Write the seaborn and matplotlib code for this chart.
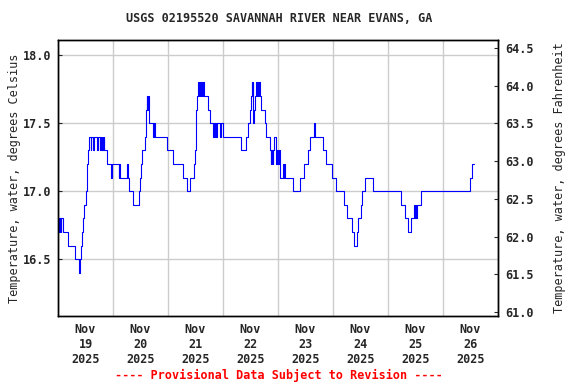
import numpy as np
import pandas as pd
import matplotlib.pyplot as plt
import matplotlib.dates as mdates
import matplotlib.ticker as mticker
import seaborn as sns

# Data: change points of the 15-minute water temperature record (hours since Nov 19 00:00)
hours = [
    0.0, 0.25, 0.5, 0.75, 1.0, 1.25, 1.5, 2.0, 4.5, 7.5, 9.0, 9.75, 10.25, 10.5, 11.0, 11.5,
    12.25, 12.5, 12.75, 13.0, 13.5, 14.25, 14.5, 15.25, 15.5, 17.0, 17.25, 18.25, 18.5, 18.75,
    19.0, 19.25, 19.5, 19.75, 20.0, 20.25, 21.5, 23.0, 23.75, 26.5, 26.75, 27.0, 30.0, 30.5,
    31.0, 32.75, 35.25, 35.75, 36.25, 36.75, 37.75, 38.25, 38.5, 38.75, 39.0, 39.25, 39.5,
    39.75, 41.25, 41.75, 42.5, 47.75, 50.25, 54.75, 56.25, 57.75, 59.5, 59.75, 60.0, 60.25,
    60.5, 61.25, 61.5, 61.75, 62.25, 62.5, 63.0, 63.25, 63.5, 65.25, 66.5, 67.75, 68.0, 68.5,
    68.75, 69.0, 69.25, 70.5, 71.0, 72.0, 79.75, 82.25, 82.75, 83.75, 84.25, 84.5, 84.75,
    85.0, 85.25, 85.5, 86.0, 86.5, 87.0, 87.25, 87.5, 87.75, 88.0, 88.75, 90.25, 90.75, 92.5,
    92.75, 93.0, 93.25, 93.5, 93.75, 94.0, 94.25, 95.0, 95.5, 95.75, 96.0, 96.25, 96.5, 96.75,
    97.0, 98.0, 98.5, 98.75, 99.0, 102.5, 105.75, 107.5, 109.25, 109.75, 111.75, 112.0, 115.5,
    116.75, 119.75, 121.25, 124.75, 126.0, 128.5, 129.0, 130.5, 131.0, 132.25, 132.75, 134.0,
    137.25, 149.5, 151.25, 152.75, 154.25, 155.5, 155.75, 156.0, 156.25, 156.5, 158.5, 179.75,
    180.5, 181.5,
]
temps_c = [
    16.8, 16.7, 16.8, 16.7, 16.8, 16.7, 16.8, 16.7, 16.6, 16.5, 16.4, 16.5, 16.6, 16.7, 16.8, 16.9,
    17.0, 17.1, 17.2, 17.3, 17.4, 17.3, 17.4, 17.3, 17.4, 17.3, 17.4, 17.3, 17.4, 17.3,
    17.4, 17.3, 17.4, 17.3, 17.4, 17.3, 17.2, 17.1, 17.2, 17.1, 17.2, 17.1, 17.2, 17.1,
    17.0, 16.9, 17.0, 17.1, 17.2, 17.3, 17.4, 17.5, 17.6, 17.7, 17.6, 17.7, 17.6,
    17.5, 17.4, 17.5, 17.4, 17.3, 17.2, 17.1, 17.0, 17.1, 17.2, 17.3, 17.5, 17.6,
    17.7, 17.8, 17.7, 17.8, 17.7, 17.8, 17.7, 17.8, 17.7, 17.6, 17.5, 17.4, 17.5, 17.4,
    17.5, 17.4, 17.5, 17.4, 17.5, 17.4, 17.3, 17.4, 17.5, 17.6, 17.7, 17.8, 17.7,
    17.8, 17.5, 17.6, 17.7, 17.8, 17.7, 17.8, 17.7, 17.8, 17.7, 17.6, 17.5, 17.4, 17.3,
    17.2, 17.3, 17.2, 17.3, 17.2, 17.3, 17.4, 17.2, 17.3, 17.2, 17.3, 17.2, 17.3, 17.2,
    17.1, 17.2, 17.1, 17.2, 17.1, 17.0, 17.1, 17.2, 17.3, 17.4, 17.5, 17.4, 17.3,
    17.2, 17.1, 17.0, 16.9, 16.8, 16.7, 16.6, 16.7, 16.8, 16.9, 17.0, 17.1,
    17.0, 16.9, 16.8, 16.7, 16.8, 16.9, 16.8, 16.9, 16.8, 16.9, 17.0, 17.1,
    17.2, 17.2,
]
start = pd.Timestamp("2025-11-19")
end = pd.Timestamp("2025-11-27")
ylim_c = (16.083, 18.1125)

title = "USGS 02195520 SAVANNAH RIVER NEAR EVANS, GA"
note = "---- Provisional Data Subject to Revision ----"

df = pd.DataFrame({"time": start + pd.to_timedelta(hours, unit="h"), "temp": temps_c})

sns.set_style("white")
plt.rcParams["font.family"] = ["DejaVu Sans Mono"]
plt.rcParams["font.weight"] = "bold"
fs = 8.5

fig = plt.figure(figsize=(5.76, 3.84), dpi=100)
ax = fig.add_axes([58 / 576, 1 - 316 / 384, 440 / 576, 276 / 384])

sns.lineplot(data=df, x="time", y="temp", ax=ax, color="#0000ff", linewidth=0.8,
             drawstyle="steps-post", estimator=None)

ax.set_xlim(start, end)
ax.set_ylim(*ylim_c)
ax.yaxis.set_major_locator(mticker.MultipleLocator(0.5))
ax.yaxis.set_major_formatter(mticker.FormatStrFormatter("%.1f"))
ax.xaxis.set_major_locator(mdates.DayLocator())
ax.xaxis.set_major_formatter(mticker.NullFormatter())
ax.xaxis.set_minor_locator(mdates.HourLocator(byhour=12))
ax.xaxis.set_minor_formatter(mdates.DateFormatter("%b\n%d\n%Y"))
ax.tick_params(axis="x", which="major", direction="in", length=3, labelsize=fs)
ax.tick_params(axis="x", which="minor", length=0, pad=5, labelsize=fs)
ax.tick_params(axis="y", direction="in", length=3, labelsize=fs, pad=5)
ax.grid(True, which="major", color="#cccccc", linewidth=1)
ax.set_xlabel("")
ax.set_ylabel("Temperature, water, degrees Celsius", fontsize=fs, labelpad=1)
for s in ax.spines.values():
    s.set_color("black")
    s.set_linewidth(1)

ax2 = ax.twinx()
ax2.set_ylim(ylim_c[0] * 9 / 5 + 32, ylim_c[1] * 9 / 5 + 32)
ax2.yaxis.set_major_locator(mticker.MultipleLocator(0.5))
ax2.yaxis.set_major_formatter(mticker.FormatStrFormatter("%.1f"))
ax2.tick_params(axis="y", direction="in", length=3, labelsize=fs, pad=5)
ax2.set_ylabel("Temperature, water, degrees Fahrenheit", fontsize=fs, labelpad=14)
for s in ax2.spines.values():
    s.set_color("black")
    s.set_linewidth(1)

fig.text(279.5 / 576, 1 - 19 / 384, title, ha="center", va="center", fontsize=fs)
fig.text(278.5 / 576, 1 - 375 / 384, note, ha="center", va="center", fontsize=fs, color="red")

fig.savefig("out.png", dpi=100)
